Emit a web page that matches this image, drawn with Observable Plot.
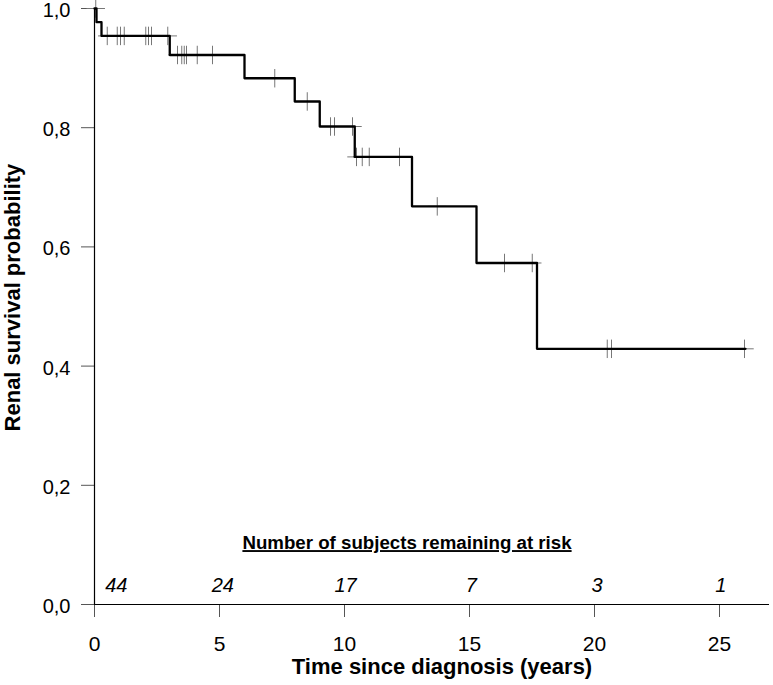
<!DOCTYPE html>
<html><head><meta charset="utf-8">
<script src="https://cdn.jsdelivr.net/npm/d3@7"></script>
<script src="https://cdn.jsdelivr.net/npm/@observablehq/plot@0.6"></script>
<style>
body{margin:0;background:#fff}
svg{font-family:"Liberation Sans",Arial,sans-serif}
</style>
</head><body><div id="chart"></div>
<script>
// Kaplan-Meier step curve (time in years, survival probability)
const eventTimes = [0, 0.08, 0.28, 3.01, 6.0, 8.01, 9.01, 10.41, 12.7, 15.28, 17.7, 26.04];
const survival   = [1.0, 0.977, 0.954, 0.922, 0.883, 0.844, 0.802, 0.751, 0.668, 0.573, 0.429, 0.429];
// censored observations (times)
const censorTimes = [0.05, 0.51, 0.91, 1.04, 1.19, 2.05, 2.16, 2.28, 2.93, 3.32, 3.49, 3.59, 3.68, 4.11, 4.72,
  7.21, 8.51, 9.44, 9.6, 10.32, 10.48, 10.71, 10.99, 12.2, 13.71, 16.4, 17.51, 20.51, 20.68, 26.0];
// number at risk
const riskTimes  = [0.87, 5.13, 10.04, 15.07, 20.1, 25.05];
const riskCounts = [44, 24, 17, 7, 3, 1];
const xTicks = [0, 5, 10, 15, 20, 25];
const yTicks = [0, 0.2, 0.4, 0.6, 0.8, 1.0];
const riskHeader = "Number of subjects remaining at risk";
const xTitle = "Time since diagnosis (years)";
const yTitle = "Renal survival probability";

const curve = eventTimes.map((t, i) => ({t, s: survival[i]}));
const censored = censorTimes.map(t => {
  const i = d3.bisectRight(eventTimes, t) - 1;
  return {t, s: survival[Math.max(0, i)]};
});
const risk = riskTimes.map((t, i) => ({t, n: riskCounts[i]}));
const fmt = d => d.toFixed(1).replace(".", ",");

const chart = Plot.plot({
  width: 773, height: 685,
  marginLeft: 94, marginRight: 4, marginTop: 8, marginBottom: 81,
  style: {background: "#fff", color: "#000", fontFamily: "'Liberation Sans', Arial, sans-serif"},
  x: {domain: [0, 27]},
  y: {domain: [0, 1]},
  marks: [
    Plot.axisX({ticks: xTicks, tickSize: 13, tickPadding: 19, fontSize: 21, stroke: "#555", fill: "#000", label: null}),
    Plot.axisY({ticks: yTicks, tickFormat: () => "", tickSize: 13, stroke: "#555", label: null}),
    Plot.axisY({ticks: yTicks, tickFormat: fmt, tickSize: 0, tickPadding: 24, fontSize: 20, fill: "#000", label: null, dy: 2}),
    Plot.ruleX([0], {stroke: "#000", strokeWidth: 1.2}),
    Plot.ruleY([0], {stroke: "#000", strokeWidth: 1.2}),
    Plot.dot(censored, {x: "t", y: "s", symbol: "plus", r: 6, stroke: "#777", strokeWidth: 1}),
    Plot.line(curve, {x: "t", y: "s", curve: "step-after", stroke: "#000", strokeWidth: 2.3}),
    Plot.text(risk, {x: "t", y: () => 0.032, text: d => String(d.n), fontSize: 20, fontStyle: "italic", fill: "#000"}),
    Plot.text([riskHeader], {x: () => 12.5, y: () => 0.103, text: d => d, fontSize: 18.7, fontWeight: "bold", fill: "#000", className: "riskhdr"}),
    Plot.text([xTitle], {frameAnchor: "bottom", text: d => d, dx: 10, dy: 69, fontSize: 22, fontWeight: "bold", fill: "#000"}),
    Plot.text([yTitle], {x: () => -3.28, y: () => 0.515, text: d => d, rotate: -90, fontSize: 22, fontWeight: "bold", fill: "#000"})
  ]
});
d3.select(chart).selectAll(".riskhdr text").style("text-decoration", "underline");
document.getElementById("chart").appendChild(chart);
</script>
</body></html>
